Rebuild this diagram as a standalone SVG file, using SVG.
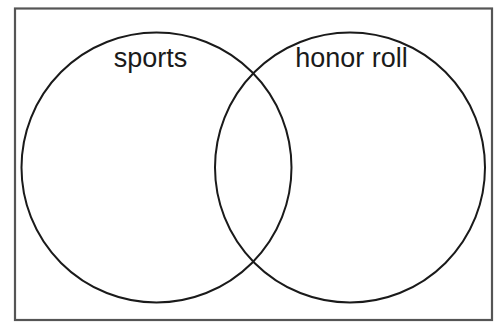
<svg xmlns="http://www.w3.org/2000/svg" width="495" height="323" viewBox="0 0 495 323">
<style>
.frame{fill:#fff;stroke:#555;stroke-width:2.2}
.set{fill:none;stroke:#1a1a1a;stroke-width:2}
.lbl{font-family:"Liberation Sans",Arial,sans-serif;font-size:27px;fill:#1a1a1a;text-anchor:middle}
</style>
<rect width="495" height="323" fill="#fff"/>
<g id="universe"><rect class="frame" x="15" y="8.5" width="477" height="311.5"/></g>
<g id="sports"><circle class="set" cx="156.5" cy="167.5" r="135"/><text class="lbl" x="150.5" y="67">sports</text></g>
<g id="honor-roll"><circle class="set" cx="350" cy="167.5" r="135"/><text class="lbl" x="351.5" y="67">honor roll</text></g>
<g id="connectors"></g>
</svg>
